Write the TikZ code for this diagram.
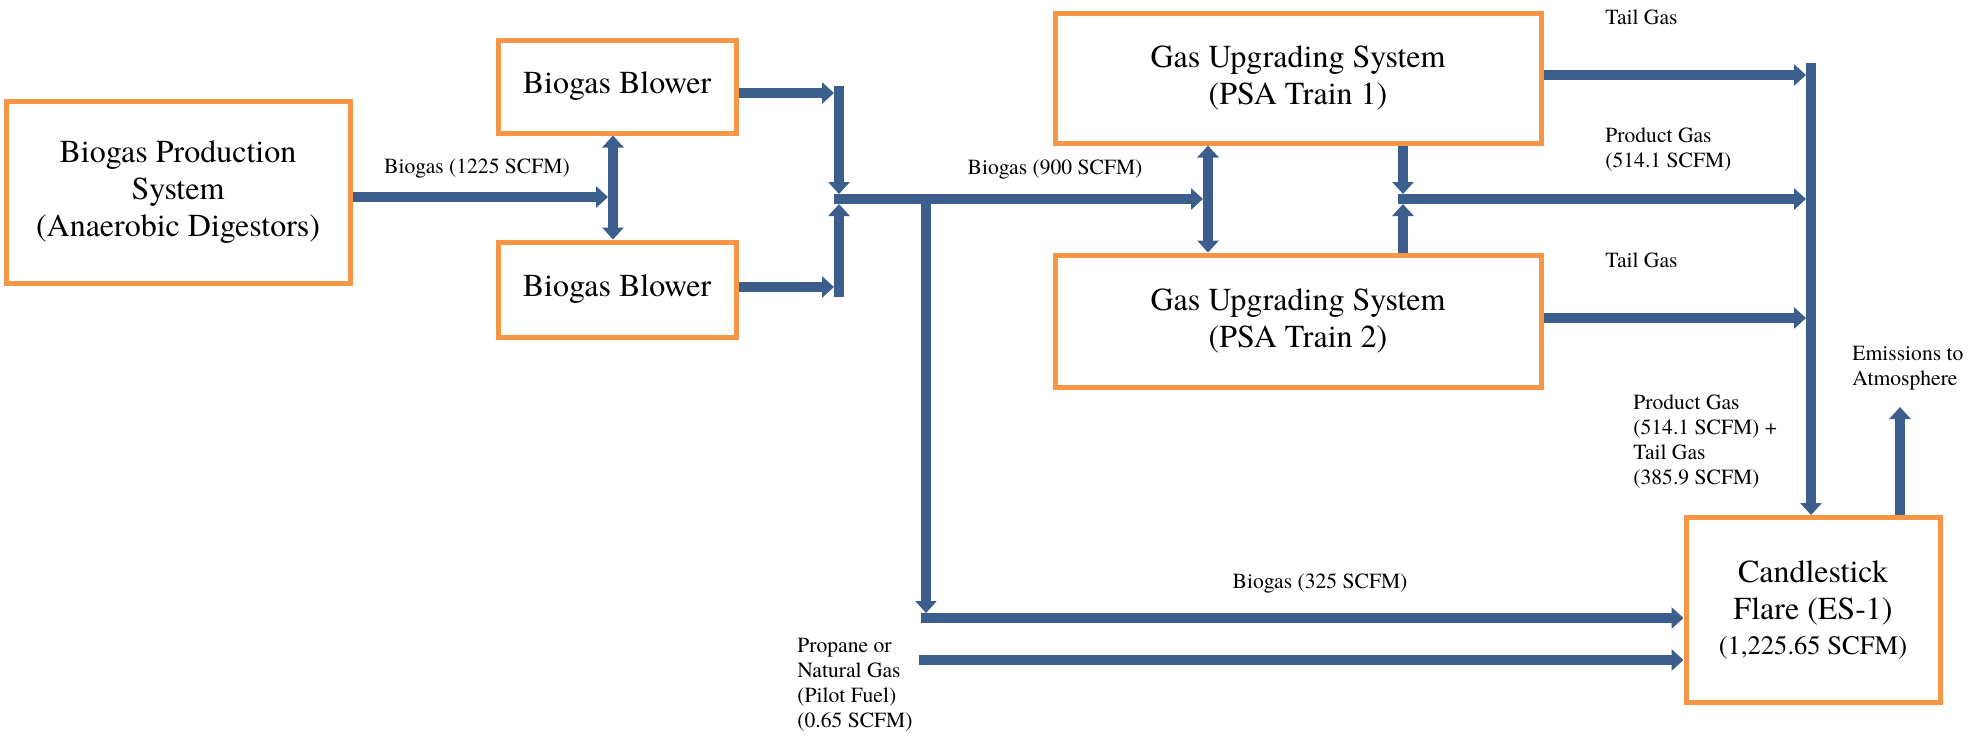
\documentclass[tikz,border=0pt]{standalone}
\usepackage{fontspec}
\setmainfont{texgyretermes-regular.otf}
\newfontfamily\tnr{texgyretermes-regular.otf}
\usetikzlibrary{arrows.meta}
\definecolor{flowblue}{RGB}{59,94,140}
\definecolor{boxorange}{RGB}{247,150,70}
\tikzset{
  flow/.style={draw=flowblue, line width=5pt},
  arr/.style={flow, -{Triangle[length=6pt,width=10.5pt]}},
  darr/.style={flow, {Triangle[length=6pt,width=10.5pt]}-{Triangle[length=6pt,width=10.5pt]}},
  sysbox/.style={draw=boxorange, line width=2.5pt, fill=white, align=center,
    font=\tnr\fontsize{16}{18.5}\selectfont},
  lbl/.style={font=\tnr\fontsize{10.8}{12.5}\selectfont, inner sep=0pt},
}
\begin{document}
\begin{tikzpicture}[x=0.5pt,y=-0.5pt]
\useasboundingbox (0,0) rectangle (1984,736);

% boxes
\node[sysbox, minimum width=172pt, minimum height=91pt] (bps) at (178,192)
  {Biogas Production\\System\\(Anaerobic Digestors)};
\node[sysbox, minimum width=119pt, minimum height=46.5pt] (b1) at (617,86.5) {Biogas Blower};
\node[sysbox, minimum width=119pt, minimum height=47.5pt] (b2) at (617,289.5) {Biogas Blower};
\node[sysbox, minimum width=243pt, minimum height=65pt] (t1) at (1298,78)
  {Gas Upgrading System\\(PSA Train 1)};
\node[sysbox, minimum width=243pt, minimum height=66pt] (t2) at (1298,321)
  {Gas Upgrading System\\(PSA Train 2)};
\node[sysbox, minimum width=127pt, minimum height=92.5pt] (fl) at (1813,609.5)
  {Candlestick\\Flare (ES-1)\\[-1pt]{\fontsize{13.3}{16}\selectfont (1,225.65 SCFM)}};

% coordinates
\coordinate (jb) at (608,197);
\coordinate (vb) at (613,197);
\coordinate (m1) at (834,93);
\coordinate (m2) at (834,287);
\coordinate (vtop) at (839,86);
\coordinate (vbot) at (839,297);
\coordinate (jin1) at (839,194);
\coordinate (jin2) at (839,204);
\coordinate (hs) at (834,199);
\coordinate (ht) at (1203,199);
\coordinate (vt) at (1208,199);
\coordinate (br) at (926,199);
\coordinate (brend) at (926,613);
\coordinate (h325) at (921,618);
\coordinate (prop) at (919,660);
\coordinate (pg) at (1403,199);
\coordinate (pgd) at (1403,194);
\coordinate (pgu) at (1403,204);
\coordinate (pgs) at (1398,199);
\coordinate (pge) at (1806,199);
\coordinate (tg1) at (1806,75);
\coordinate (tg2) at (1806,318);
\coordinate (bigtop) at (1811,63);
\coordinate (bigend) at (1811,515);
\coordinate (emi) at (1900,407);

% connectors
\draw[arr] (bps.east |- jb) -- (jb);
\draw[darr] (b1.south -| vb) -- (b2.north -| vb);
\draw[arr] (b1.east |- m1) -- (m1);
\draw[arr] (b2.east |- m2) -- (m2);
\draw[arr] (vtop) -- (jin1);
\draw[arr] (vbot) -- (jin2);
\draw[arr] (hs) -- (ht);
\draw[darr] (t1.south -| vt) -- (t2.north -| vt);
\draw[arr] (br) -- (brend);
\draw[arr] (h325) -- (fl.west |- h325);
\draw[arr] (prop) -- (fl.west |- prop);
\draw[arr] (t1.south -| pg) -- (pgd);
\draw[arr] (t2.north -| pg) -- (pgu);
\draw[arr] (pgs) -- (pge);
\draw[arr] (t1.east |- tg1) -- (tg1);
\draw[arr] (t2.east |- tg2) -- (tg2);
\draw[arr] (bigtop) -- (bigend);
\draw[arr] (fl.north -| emi) -- (emi);

% labels
\node[lbl] (l1225) at (477,168) {Biogas (1225 SCFM)};
\node[lbl] (l900) at (1055,170) {Biogas (900 SCFM)};
\node[lbl] (l325) at (1320,583) {Biogas (325 SCFM)};
\node[lbl, anchor=west] (ltg1) at (1605,17) {Tail Gas};
\node[lbl, anchor=west, align=left] (lpg) at (1605,150) {Product Gas\\(514.1 SCFM)};
\node[lbl, anchor=west] (ltg2) at (1605,260) {Tail Gas};
\node[lbl, anchor=west, align=left] (lem) at (1852,368) {Emissions to\\Atmosphere};
\node[lbl, anchor=west, align=left] (lmix) at (1633,442) {Product Gas\\(514.1 SCFM) +\\Tail Gas\\(385.9 SCFM)};
\node[lbl, anchor=west, align=left] (lprop) at (797,685) {Propane or\\Natural Gas\\(Pilot Fuel)\\(0.65 SCFM)};
\end{tikzpicture}
\end{document}
